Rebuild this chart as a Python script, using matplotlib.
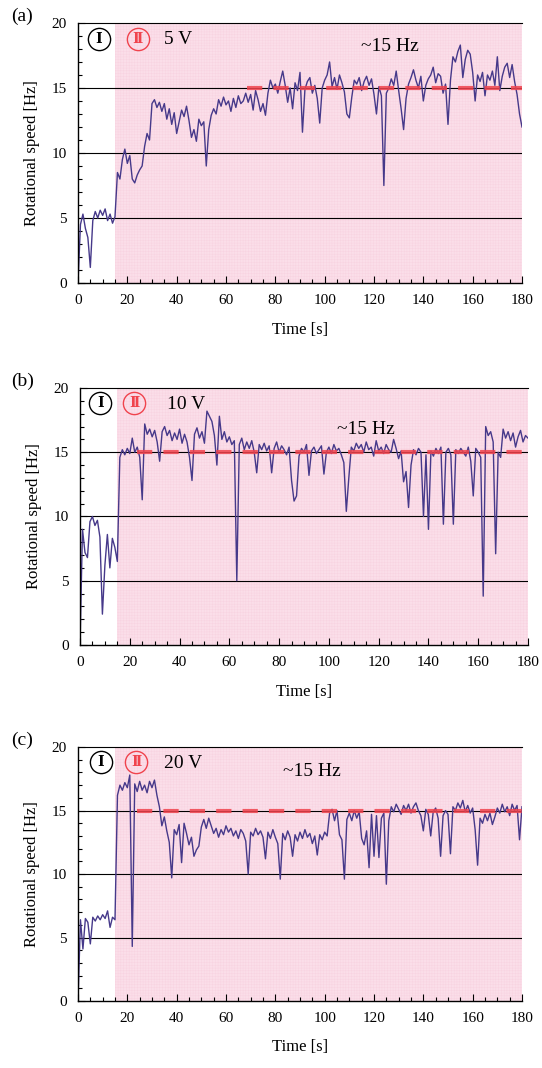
import numpy as np
import matplotlib
matplotlib.use("Agg")
from matplotlib import pyplot as plt

plt.rcParams['font.family'] = ['Liberation Serif', 'DejaVu Serif']
plt.rcParams['lines.scale_dashes'] = False
plt.rcParams['hatch.linewidth'] = 0.3

time_s = np.arange(0, 181)

speed_a = [
    0.0, 4.5, 5.3, 4.2, 3.5, 1.2, 4.8, 5.5, 5.0, 5.6,
    5.2, 5.7, 4.8, 5.3, 4.6, 5.1, 8.5, 8.0, 9.5, 10.3,
    9.2, 9.8, 8.0, 7.7, 8.3, 8.7, 9.0, 10.5, 11.5, 11.0,
    13.8, 14.1, 13.5, 13.9, 13.2, 13.8, 12.6, 13.4, 12.2, 13.1,
    11.5, 12.4, 13.3, 12.8, 13.6, 12.5, 11.2, 11.8, 10.9, 12.6,
    12.1, 12.4, 9.0, 11.8, 12.9, 13.4, 13.0, 14.1, 13.6, 14.3,
    13.7, 14.0, 13.2, 14.2, 13.5, 14.4, 13.8, 14.0, 14.6, 13.9,
    14.5, 13.3, 14.8, 14.1, 13.2, 13.8, 12.9, 14.6, 15.6, 15.0,
    15.3, 14.6, 15.5, 16.3, 15.2, 13.9, 15.0, 13.4, 15.4, 14.8,
    16.2, 11.6, 14.9, 15.5, 15.8, 14.6, 15.2, 14.2, 12.3, 15.0,
    15.6, 16.0, 17.0, 15.1, 15.8, 14.9, 16.0, 15.4, 14.7, 13.0,
    12.7, 14.3, 15.6, 15.3, 15.8, 14.8, 15.5, 15.9, 15.2, 15.7,
    14.5, 13.0, 15.1, 14.4, 7.5, 14.6, 15.0, 15.7, 15.2, 16.3,
    14.8, 13.4, 11.8, 14.2, 15.3, 15.8, 16.4, 15.6, 15.0, 15.9,
    14.0, 15.2, 15.7, 16.0, 16.6, 15.4, 16.1, 15.9, 14.6, 15.3,
    12.2, 15.6, 17.4, 17.0, 17.8, 18.3, 15.8, 17.2, 17.9, 17.6,
    16.2, 14.0, 16.0, 15.5, 16.2, 14.4, 16.0, 15.6, 16.3, 15.2,
    17.4, 14.8, 15.9, 16.6, 16.9, 15.8, 16.8, 15.5, 14.5, 13.0,
    12.0,
]

speed_b = [
    0.0, 9.0, 7.2, 6.8, 9.6, 10.0, 9.3, 9.7, 8.4, 2.4,
    6.2, 8.6, 6.0, 8.3, 7.6, 6.5, 14.6, 15.2, 14.8, 15.3,
    14.9, 16.1, 15.0, 15.4, 14.6, 11.3, 17.2, 16.4, 16.8, 16.2,
    16.7, 15.8, 14.3, 16.6, 17.0, 16.3, 16.7, 15.9, 16.5, 16.0,
    16.8, 15.7, 16.4, 15.8, 14.6, 12.8, 16.4, 16.9, 16.1, 16.6,
    15.7, 18.2, 17.8, 17.4, 16.3, 14.0, 17.8, 16.0, 16.6, 15.8,
    16.2, 15.6, 15.9, 5.0, 15.6, 16.1, 15.2, 15.8, 15.3, 15.9,
    15.0, 13.4, 15.6, 15.2, 15.7, 15.1, 15.5, 13.4, 15.3, 15.8,
    15.0, 15.5, 15.2, 14.8, 15.4, 12.8, 11.2, 11.6, 14.7, 15.3,
    15.0, 15.6, 13.2, 15.1, 15.4, 14.9, 15.2, 15.5, 13.3, 15.0,
    15.4, 14.9, 15.6, 15.1, 15.3, 14.8, 14.2, 10.4, 13.0, 15.4,
    15.1, 15.7, 15.3, 15.6, 15.0, 15.8, 15.2, 15.4, 14.7, 15.9,
    15.1, 15.4, 14.9, 15.6, 15.2, 15.0, 16.0, 15.3, 14.5, 15.1,
    12.7, 13.5, 10.7, 14.0, 15.2, 14.8, 15.3, 15.0, 10.0, 14.8,
    9.0, 15.1, 14.7, 15.3, 14.9, 15.4, 9.4, 15.0, 15.3, 14.8,
    9.4, 15.2, 14.9, 15.3, 15.0, 14.7, 15.4, 14.3, 11.6, 15.3,
    15.0, 14.6, 3.8, 17.0, 16.3, 16.6, 15.8, 7.1, 15.0, 14.6,
    16.8, 16.1, 16.6, 15.9, 16.5, 15.4, 16.2, 16.7, 15.8, 16.3,
    16.1,
]

speed_c = [
    0.0, 6.4, 4.1, 6.5, 6.2, 4.5, 6.6, 6.3, 6.7, 6.4,
    6.8, 6.5, 7.1, 5.8, 6.6, 6.4, 16.2, 17.0, 16.6, 17.2,
    16.8, 17.8, 4.3, 17.1, 16.5, 17.3, 16.6, 17.0, 16.4, 17.3,
    16.8, 17.4, 16.2, 15.3, 13.8, 14.5, 13.4, 12.5, 9.7, 13.5,
    13.1, 13.9, 10.9, 14.0, 13.2, 12.3, 12.9, 11.4, 11.9, 12.2,
    13.7, 14.3, 13.6, 14.4, 13.8, 13.2, 13.6, 12.9, 13.5, 13.1,
    13.8, 13.3, 13.6, 13.0, 13.4, 12.8, 13.5, 13.2, 12.6, 10.0,
    13.3, 13.0, 13.6, 13.1, 13.4, 12.9, 11.2, 13.3, 12.8, 13.5,
    12.9, 12.4, 9.6, 13.2, 12.7, 13.4, 12.9, 11.4, 13.1, 12.6,
    13.3, 12.8, 13.5, 12.9, 13.2, 12.4, 13.0, 11.5, 13.1, 12.7,
    13.3, 13.0, 14.8, 15.1, 14.2, 15.0, 13.1, 12.7, 9.6, 14.3,
    14.8, 14.2, 15.0, 14.4, 14.9, 12.8, 12.3, 13.4, 10.5, 14.7,
    11.4, 14.6, 11.3, 14.4, 14.8, 9.2, 14.2, 15.3, 14.9, 15.5,
    15.1, 14.7, 15.4, 15.0, 15.5, 14.8, 15.3, 15.6, 15.0, 14.6,
    13.4, 15.1, 14.7, 13.0, 14.9, 15.2, 14.4, 11.4, 14.6, 15.0,
    14.7, 11.6, 15.3, 15.0, 15.6, 15.2, 15.8, 14.9, 15.4, 14.8,
    15.2, 13.5, 10.7, 14.4, 14.0, 14.7, 14.2, 14.8, 13.9, 14.5,
    15.2, 14.8, 15.5, 14.9, 15.3, 14.6, 15.5, 15.0, 15.4, 12.7,
    15.3,
]

panel_tags = ["(a)", "(b)", "(c)"]
voltages = ["5 V", "10 V", "20 V"]
series = [speed_a, speed_b, speed_c]
switch_time = 15
target_hz = 15
target_start = [68.4, 22.9, 23.8]
note_pos = [(126.5, 18.2), (115, 16.8), (95, 18.1)]

# axes boxes in figure fractions [left, bottom, width, height]
boxes = [
    [0.1439, 0.7350, 0.8192, 0.2435],
    [0.1476, 0.3961, 0.8266, 0.2406],
    [0.1439, 0.0627, 0.8192, 0.2378],
]
circle_x = [(0.047, 0.135), (0.045, 0.121), (0.051, 0.131)]

line_color = "#46398a"
red = "#f0434d"

fig = plt.figure(figsize=(5.42, 10.68), dpi=100)

for i in range(3):
    ax = fig.add_axes(boxes[i])
    ax.axvspan(switch_time, 180, facecolor="#fbdee9", edgecolor="#f8d2e0",
               hatch="++++++", lw=0, zorder=0)
    for yv in [5, 10, 15]:
        ax.axhline(yv, color="black", lw=0.8, zorder=1)
    ax.plot(time_s, series[i], color=line_color, lw=1.0, zorder=2)
    ax.plot([target_start[i], 180], [target_hz, target_hz], color=red, lw=3,
            dashes=(11, 8), alpha=0.85, zorder=3, dash_capstyle="butt")

    ax.set_xlim(0, 180)
    ax.set_ylim(0, 20)
    ax.set_xticks(np.arange(0, 181, 20))
    ax.set_xticks(np.arange(0, 181, 5), minor=True)
    ax.set_yticks(np.arange(0, 21, 5))
    ax.set_yticks(np.arange(0, 21, 1), minor=True)
    ax.tick_params(which="both", direction="in", labelsize=11, top=False, right=False)
    ax.tick_params(which="major", length=5, width=0.8)
    ax.tick_params(which="minor", length=3, width=0.8)
    ax.tick_params(axis="x", pad=8)
    ax.tick_params(axis="y", pad=8)
    ax.spines["right"].set_visible(False)
    ax.spines["top"].set_linewidth(0.8)
    for s in ["left", "bottom"]:
        ax.spines[s].set_linewidth(1.0)

    ax.set_xlabel("Time [s]", fontsize=12)
    ax.set_ylabel("Rotational speed [Hz]", fontsize=12)
    ax.xaxis.set_label_coords(0.5, -0.15)
    ax.yaxis.set_label_coords(-0.085, 0.5)

    # phase markers
    cy = 0.94
    ax.plot([circle_x[i][0]], [cy], "o", ms=16, mfc="none", mec="black", mew=1.0,
            transform=ax.transAxes, clip_on=False, zorder=4)
    ax.text(circle_x[i][0], cy, "Ⅰ", transform=ax.transAxes, ha="center",
            va="center", fontsize=10, fontweight="bold", color="black", zorder=5,
            family=["DejaVu Serif", "DejaVu Sans"])
    ax.plot([circle_x[i][1]], [cy], "o", ms=16, mfc="none", mec=red, mew=1.0,
            transform=ax.transAxes, clip_on=False, zorder=4)
    ax.text(circle_x[i][1], cy, "Ⅱ", transform=ax.transAxes, ha="center",
            va="center", fontsize=10, fontweight="bold", color=red, zorder=5,
            family=["DejaVu Serif", "DejaVu Sans"])
    ax.text(35, 18.7, voltages[i], ha="left", va="center", fontsize=14, zorder=5)
    ax.text(note_pos[i][0], note_pos[i][1], "~15 Hz", ha="center", va="center",
            fontsize=14, zorder=5)

    fig.text(0.041, boxes[i][1] + boxes[i][3] + 0.006, panel_tags[i],
             ha="center", va="center", fontsize=14)

fig.savefig("out.png", dpi=100)
